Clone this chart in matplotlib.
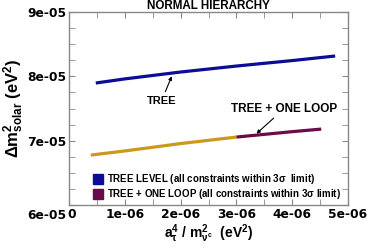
import matplotlib
matplotlib.use("Agg")
import matplotlib.pyplot as plt
from matplotlib.ticker import MultipleLocator, FixedLocator
import matplotlib.transforms as mtransforms

plt.rcParams['font.family'] = ['Liberation Sans', 'DejaVu Sans']
plt.rcParams['font.weight'] = 'bold'
plt.rcParams['mathtext.fontset'] = 'custom'
plt.rcParams['mathtext.rm'] = 'Liberation Sans:bold'
plt.rcParams['mathtext.it'] = 'Liberation Sans:bold'
plt.rcParams['mathtext.bf'] = 'Liberation Sans:bold'

# data (x in eV^2, y in eV^2)
tree_x = [0.48e-6, 1.0e-6, 2.0e-6, 3.0e-6, 4.0e-6, 4.77e-6]
tree_y = [7.896e-5, 7.96e-5, 8.067e-5, 8.16e-5, 8.245e-5, 8.316e-5]
loop_a_x = [0.39e-6, 1.0e-6, 2.0e-6, 3.0e-6]
loop_a_y = [6.776e-5, 6.84e-5, 6.955e-5, 7.056e-5]
loop_b_x = [3.0e-6, 4.0e-6, 4.52e-6]
loop_b_y = [7.056e-5, 7.14e-5, 7.18e-5]

xticks = [0, 1e-6, 2e-6, 3e-6, 4e-6, 5e-6]
xticklabels = ['0', '1e-06', '2e-06', '3e-06', '4e-06', '5e-06']
yticks = [6e-5, 7e-5, 8e-5, 9e-5]
yticklabels = ['6e-05', '7e-05', '8e-05', '9e-05']

c_tree = '#0c0c96'
c_gold = '#cc9a1a'
c_loop = '#6b0a48'

fig = plt.figure(figsize=(3.69, 2.48), dpi=100)
ax = fig.add_axes([69/369, 1-205/248, (348-69)/369, (205-12)/248])

ax.plot(tree_x, tree_y, color=c_tree, lw=2.3, solid_capstyle='butt')
ax.plot(loop_a_x, loop_a_y, color=c_gold, lw=2.3, solid_capstyle='butt')
ax.plot(loop_b_x, loop_b_y, color=c_loop, lw=2.3, solid_capstyle='butt')

ax.set_xlim(0, 5e-6)
ax.set_ylim(6e-5, 9e-5)
ax.xaxis.set_major_locator(FixedLocator(xticks))
ax.set_xticklabels(xticklabels)
ax.yaxis.set_major_locator(FixedLocator(yticks))
ax.set_yticklabels(yticklabels)
ax.xaxis.set_minor_locator(MultipleLocator(0.5e-6))
ax.yaxis.set_minor_locator(MultipleLocator(0.25e-5))
ax.tick_params(which='both', direction='in', top=True, right=True, color='#888888')
ax.tick_params(which='major', length=4, pad=2)
ax.tick_params(which='minor', length=4)
for lab in ax.get_xticklabels() + ax.get_yticklabels():
    lab.set_fontweight('bold')
    lab.set_fontfamily('DejaVu Sans')
    lab.set_fontsize(8.8)
for s in ax.spines.values():
    s.set_color('#888888')
    s.set_linewidth(1.0)

# shift corner labels like the reference
fig.canvas.draw()
ylabs = ax.get_yticklabels()
ylabs[0].set_transform(ylabs[0].get_transform() + mtransforms.ScaledTranslation(0, -9/100, fig.dpi_scale_trans))
xlabs = ax.get_xticklabels()
xlabs[0].set_transform(xlabs[0].get_transform() + mtransforms.ScaledTranslation(3/100, 0, fig.dpi_scale_trans))

ax.set_title('NORMAL HIERARCHY', fontsize=8.4, fontweight='bold', pad=1.5)
ax.set_xlabel(r'a$^{4}_{\tau}$ / m$^{2}_{\nu^c}$  (eV$^{2}$)', fontsize=10, fontweight='bold', labelpad=1)
ax.set_ylabel(r'$\Delta$m$^{2}_{\mathrm{solar}}$ (eV$^{2}$)', fontsize=12, fontweight='bold', labelpad=1)

ax.annotate('TREE', xy=(1.84e-6, 8.0e-5), xytext=(1.66e-6, 7.62e-5),
            fontsize=8, fontweight='bold', ha='center', va='center',
            arrowprops=dict(arrowstyle='-|>', color='black', lw=0.8, mutation_scale=5, shrinkA=1, shrinkB=0))
ax.annotate('TREE + ONE LOOP', xy=(3.36e-6, 7.11e-5), xytext=(3.86e-6, 7.5e-5),
            fontsize=8.5, fontweight='bold', ha='center', va='center',
            arrowprops=dict(arrowstyle='-|>', color='black', lw=0.8, mutation_scale=5, shrinkA=1, shrinkB=0))

h1, = ax.plot([], [], 's', color=c_tree, markersize=6.5)
h2, = ax.plot([], [], 's', color=c_loop, markersize=6.5)
ax.legend([h1, h2], [r'TREE LEVEL (all constraints within 3$\sigma$  limit)',
                     r'TREE + ONE LOOP (all constraints within 3$\sigma$ limit)'],
          loc='lower left', bbox_to_anchor=(0.07, -0.01), frameon=False,
          handlelength=0.8, handletextpad=0.5, labelspacing=0.12, borderaxespad=0.2,
          prop={'weight': 'bold', 'size': 7.0})

fig.savefig('out.png', dpi=100)
